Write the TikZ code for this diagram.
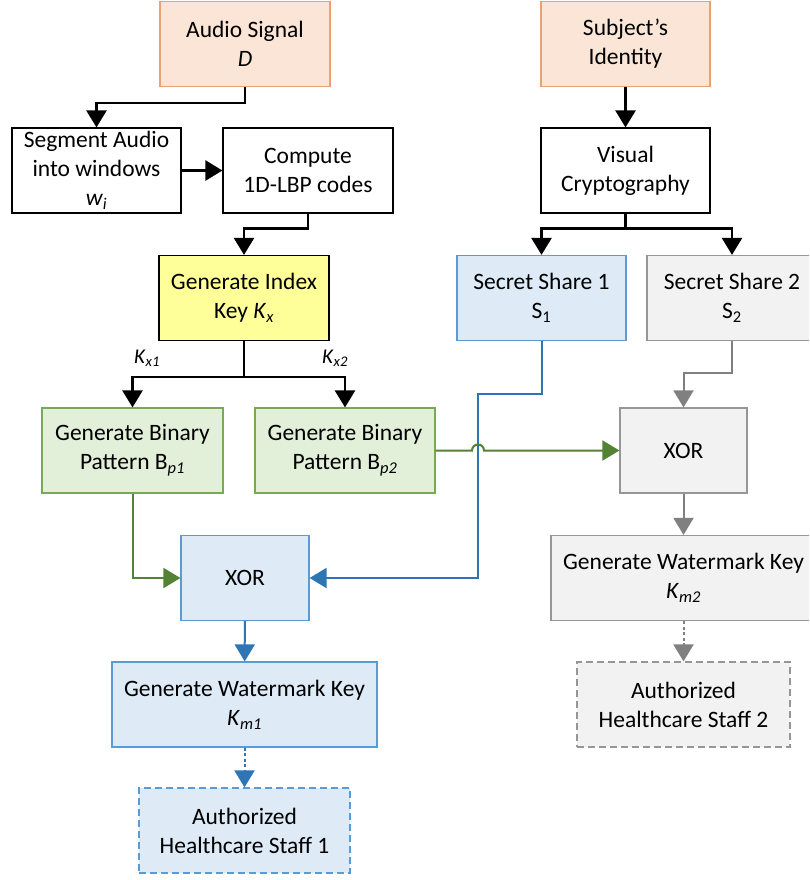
\documentclass[tikz,border=0pt]{standalone}
\usepackage{fontspec}
\setmainfont{Carlito}
\usepackage{tikz}
\usetikzlibrary{arrows.meta, positioning, calc}
\definecolor{audiocolor}{RGB}{251, 229, 214}
\definecolor{audioline}{RGB}{237, 160, 112}
\definecolor{indexcolor}{RGB}{255, 255, 153}
\definecolor{patterncolor}{RGB}{226, 240, 217}
\definecolor{patternline}{RGB}{120, 170, 85}
\definecolor{greenarrow}{RGB}{84, 130, 53}
\definecolor{sharecolor}{RGB}{222, 235, 247}
\definecolor{shareline}{RGB}{91, 155, 213}
\definecolor{bluearrow}{RGB}{46, 117, 182}
\definecolor{greycolor}{RGB}{242, 242, 242}
\definecolor{greyline}{RGB}{150, 150, 150}
\definecolor{greyarrow}{RGB}{128, 128, 128}
\newcommand{\isub}[1]{\textsubscript{\itshape #1}}

\begin{document}
\begin{tikzpicture}[x=1pt, y=1pt,
    font=\fontsize{23.5}{29}\selectfont,
    box/.style={draw, line width=1.2pt, align=center, inner sep=2pt, minimum height=85},
    arr/.style={-{Triangle[width=20pt,length=17pt]}, line width=2.6pt},
    carr/.style={-{Triangle[width=20pt,length=17pt]}, line width=2pt}]
    \clip (0, 0) rectangle (809, -880);
    \fill[white] (0, 0) rectangle (809, -880);

    % Inputs
    \node[box, fill=audiocolor, draw=audioline, minimum width=170] (audio) at (245, -44) {Audio Signal\\\textit{D}};
    \node[box, fill=audiocolor, draw=audioline, minimum width=169] (subject) at (625.5, -44) {Subject’s\\Identity};

    % Audio branch
    \node[box, minimum width=169] (segment) at (96.5, -170.5) {Segment Audio\\into windows\\\textit{w}\isub{i}};
    \node[box, minimum width=170] (lbp) at (308, -170.5) {Compute\\1D-LBP codes};
    \node[box, fill=indexcolor, minimum width=170] (indexkey) at (244, -298) {Generate Index\\Key \textit{K}\isub{x}};
    \node[box, fill=patterncolor, draw=patternline, minimum width=181] (bp1) at (132.5, -450.5) {Generate Binary\\Pattern B\isub{p1}};
    \node[box, fill=patterncolor, draw=patternline, minimum width=180] (bp2) at (345, -450.5) {Generate Binary\\Pattern B\isub{p2}};

    % Identity branch
    \node[box, minimum width=169] (visual) at (625.5, -170.5) {Visual\\Cryptography};
    \node[box, fill=sharecolor, draw=shareline, minimum width=169] (share1) at (541.5, -298) {Secret Share 1\\S\textsubscript{1}};
    \node[box, fill=greycolor, draw=greyline, minimum width=170] (share2) at (732, -298) {Secret Share 2\\S\textsubscript{2}};

    % Key generation
    \node[box, fill=sharecolor, draw=shareline, minimum width=128] (xor1) at (245, -578) {XOR};
    \node[box, fill=sharecolor, draw=shareline, minimum width=265] (wmk1) at (244.5, -704.5) {Generate Watermark Key\\\textit{K}\isub{m1}};
    \node[box, dashed, dash pattern=on 7pt off 4pt, fill=sharecolor, draw=shareline, minimum width=211] (staff1) at (244.5, -830.5) {Authorized\\Healthcare Staff 1};
    \node[box, fill=greycolor, draw=greyline, minimum width=127] (xor2) at (683.5, -450.5) {XOR};
    \node[box, fill=greycolor, draw=greyline, minimum width=265] (wmk2) at (683.5, -578) {Generate Watermark Key\\\textit{K}\isub{m2}};
    \node[box, dashed, dash pattern=on 7pt off 4pt, fill=greycolor, draw=greyline, minimum width=213] (staff2) at (683.5, -704.5) {Authorized\\Healthcare Staff 2};

    % Black connectors
    \draw[arr] (audio.south) -- ++(0, -16) -| (segment.north);
    \draw[arr] (segment.east) -- (lbp.west);
    \draw[arr] (lbp.south) -- ++(0, -15) -| (indexkey.north);
    \draw[arr] (subject) -- (visual);
    \draw[arr] (visual.south) -- ++(0, -15) -| (share1.north);
    \draw[arr] (visual.south) -- ++(0, -15) -| (share2.north);
    \draw[arr] (indexkey.south) -- ++(0, -36) -| (bp1.north);
    \draw[arr] (indexkey.south) -- ++(0, -36) -| (bp2.north);
    \node[font=\fontsize{21}{25}\selectfont] (kx1) at (147, -358) {\textit{K}\isub{x1}};
    \node[font=\fontsize{21}{25}\selectfont] (kx2) at (335, -358) {\textit{K}\isub{x2}};

    % Blue connectors
    \coordinate (bend) at (478, -394);
    \coordinate (hop) at (bend |- bp2.east);
    \draw[carr, bluearrow] (share1.south) |- (bend) |- (xor1.east);
    \draw[carr, bluearrow] (xor1) -- (wmk1);
    \draw[carr, bluearrow, dash pattern=on 3pt off 2.5pt] (wmk1) -- (staff1);

    % Green connectors
    \draw[carr, greenarrow] (bp1.south) |- (xor1.west);
    \draw[carr, greenarrow] (bp2.east) -- ([xshift=-6pt]hop) arc[start angle=180, end angle=0, radius=6pt] -- (xor2.west);

    % Grey connectors
    \draw[carr, greyarrow] (share2.south) -- ++(0, -32) -| (xor2.north);
    \draw[carr, greyarrow] (xor2) -- (wmk2);
    \draw[carr, greyarrow, dash pattern=on 3pt off 2.5pt] (wmk2) -- (staff2);
\end{tikzpicture}
\end{document}
